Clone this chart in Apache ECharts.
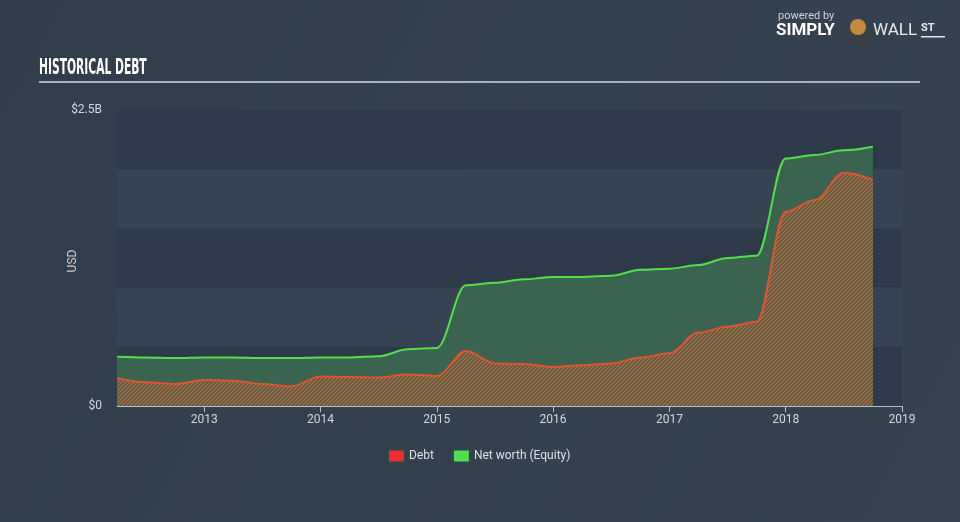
<!DOCTYPE html>
<html><head><meta charset="utf-8">
<script src="https://cdn.jsdelivr.net/npm/echarts@6/dist/echarts.min.js"></script>
<style>html,body{margin:0;padding:0;background:#334050;}#c{width:960px;height:522px;}</style>
</head><body><div id="c"></div>
<script>
// Data (years as decimals, values in billions USD)
const dates = [2012.25,2012.5,2012.75,2013.0,2013.25,2013.5,2013.75,2014.0,2014.25,2014.5,2014.75,2015.0,2015.25,2015.5,2015.75,2016.0,2016.25,2016.5,2016.75,2017.0,2017.25,2017.5,2017.75,2018.0,2018.25,2018.5,2018.75];
const debt = [0.234,0.200,0.186,0.220,0.214,0.185,0.165,0.250,0.245,0.240,0.265,0.253,0.465,0.360,0.355,0.330,0.345,0.360,0.410,0.445,0.620,0.670,0.712,1.640,1.740,1.970,1.910];
const equity = [0.416,0.410,0.405,0.410,0.410,0.405,0.405,0.410,0.410,0.420,0.480,0.490,1.020,1.040,1.070,1.090,1.090,1.100,1.150,1.160,1.190,1.250,1.270,2.090,2.120,2.160,2.190];
const xTickYears = [2013,2014,2015,2016,2017,2018,2019];
const yLabels = [0, 2.5e9];

const pat = document.createElement('canvas');
pat.width = 4; pat.height = 4;
const g = pat.getContext('2d');
g.strokeStyle = 'rgba(216,100,52,0.9)';
g.lineWidth = 1.3;
g.beginPath();
g.moveTo(-1,5); g.lineTo(5,-1);
g.moveTo(-1,1); g.lineTo(1,-1);
g.moveTo(3,5); g.lineTo(5,3);
g.stroke();

const chart = echarts.init(document.getElementById('c'));
const font = 'Roboto, "Open Sans", sans-serif';
chart.setOption({
  backgroundColor: {type:'linear',x:0,y:0,x2:1,y2:1,colorStops:[{offset:0,color:'#313d4b'},{offset:1,color:'#36434f'}]},
  animation: false,
  grid: {left:117, right:58, top:110, bottom:116},
  legend: {
    bottom: 55, left: 384, itemWidth: 15, itemHeight: 11, icon: 'rect', itemGap: 20,
    textStyle: {color:'#dde1e6', fontSize: 12, fontFamily: font},
    data: ['Debt','Net worth (Equity)']
  },
  graphic: [
    {type:'text', x:39, y:58, scaleX:0.51, style:{text:'HISTORICAL DEBT', fill:'#ffffff', font:'bold 21px "DejaVu Sans", sans-serif'}},
    {type:'rect', shape:{x:39, y:81, width:881, height:2}, style:{fill:'#a9b0b8'}},
    {type:'text', x:73, y:261, rotation: Math.PI/2, style:{text:'USD', fill:'#c9ced4', font:'12px '+font, align:'center', verticalAlign:'middle'}},
    {type:'text', left:778, top:11, style:{text:'powered by', fill:'#cfd3d8', font:'11px '+font}},
    {type:'text', left:776, top:22, style:{text:'SIMPLY', fill:'#ffffff', font:'bold 17px '+font}},
    {type:'circle', shape:{cx:858, cy:34, r:12}, style:{fill:'#3b3f46'}},
    {type:'circle', shape:{cx:858, cy:27, r:8}, style:{fill:'#c28a3a'}},
    {type:'text', left:873, top:22, style:{text:'WALL', fill:'#e6e8eb', font:'17px '+font}},
    {type:'text', left:921, top:23, style:{text:'ST', fill:'#e6e8eb', font:'bold 11px '+font}},
    {type:'rect', shape:{x:921, y:36, width:24, height:1.5}, style:{fill:'#e6e8eb'}}
  ],
  xAxis: {
    type:'value', min:2012.25, max:2019,
    axisLine:{show:true, lineStyle:{color:'#b9c2cc', width:1}},
    axisTick:{show:true, length:6, customValues: xTickYears, lineStyle:{color:'#b9c2cc'}},
    axisLabel:{customValues: xTickYears, color:'#d4d8dd', fontSize:12, fontFamily:font, margin:8, formatter: v => String(Math.round(v))},
    splitLine:{show:false}
  },
  yAxis: {
    type:'value', min:0, max:2.5e9, interval:0.5e9,
    axisLine:{show:false}, axisTick:{show:false},
    axisLabel:{customValues: yLabels, color:'#d4d8dd', fontSize:12, fontFamily:font, margin:15,
      formatter: v => v === 0 ? '$0' : '$2.5B'},
    splitLine:{show:false},
    splitArea:{show:true, areaStyle:{color:['#2e3a4a','#354352']}}
  },
  series: [
    {
      name:'Net worth (Equity)', type:'line', smooth:0.35, smoothMonotone:'x', showSymbol:false,
      itemStyle:{color:'#4ee04e'},
      lineStyle:{color:'#4fe04a', width:2},
      areaStyle:{color:'#3a6350', opacity:1},
      data: dates.map((d,i)=>[d, equity[i]*1e9]),
      z:2
    },
    {
      name:'Debt', type:'line', smooth:0.35, smoothMonotone:'x', showSymbol:false,
      itemStyle:{color:'#e8302c'},
      lineStyle:{color:'#e0542e', width:2},
      areaStyle:{color:{image:pat, repeat:'repeat'}, opacity:1},
      data: dates.map((d,i)=>[d, debt[i]*1e9]),
      z:3
    }
  ]
});
</script></body></html>
